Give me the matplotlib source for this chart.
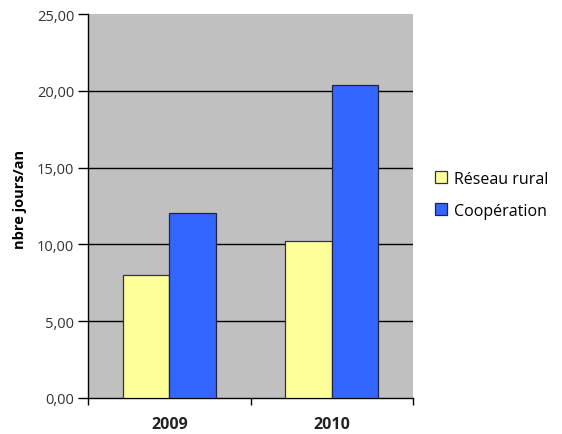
import numpy as np
import matplotlib.pyplot as plt
from matplotlib.ticker import FixedLocator

# data
years = ['2009', '2010']
reseau_rural = [8.0, 10.22]
cooperation = [12.05, 20.4]
series_names = ['Réseau rural', 'Coopération']
yticks = [0, 5, 10, 15, 20, 25]

plt.rcParams['font.family'] = ['Open Sans', 'DejaVu Sans']

fig = plt.figure(figsize=(5.62, 4.35), dpi=100)
ax = fig.add_axes([0.157, 0.083, 0.578, 0.882])
ax.set_facecolor('#C0C0C0')

x = np.arange(len(years))
w = 0.287
ax.bar(x - w/2, reseau_rural, w, color='#FFFF99', edgecolor='#333333', linewidth=0.9,
       label=series_names[0], zorder=3)
ax.bar(x + w/2, cooperation, w, color='#3366FF', edgecolor='#222244', linewidth=0.9,
       label=series_names[1], zorder=3)

ax.set_xlim(-0.5, 1.5)
ax.set_ylim(0, 25)
ax.set_yticks(yticks)
ax.set_yticklabels([('%.2f' % v).replace('.', ',') for v in yticks], fontsize=10.5, color='#333333')
ax.set_xticks(x)
ax.set_xticklabels(years, fontsize=11.5, fontweight='bold', color='#222222')
ax.tick_params(axis='x', which='major', length=0, pad=13)
ax.xaxis.set_minor_locator(FixedLocator([-0.5, 0.5, 1.5]))
ax.tick_params(axis='x', which='minor', length=5, width=1, direction='out')
ax.tick_params(axis='y', length=7, width=1, direction='out', pad=3)

for v in yticks[1:-1]:
    ax.axhline(v, color='black', linewidth=1, zorder=1)

for s in ['top', 'right']:
    ax.spines[s].set_visible(False)
ax.spines['left'].set_linewidth(1)
ax.spines['bottom'].set_linewidth(1)

ax.set_ylabel('nbre jours/an', fontsize=10.5, fontweight='bold')
ax.yaxis.set_label_coords(-0.19, 0.52)

fig.legend(loc='center left', bbox_to_anchor=(0.748, 0.55), frameon=False,
           fontsize=11.5, handlelength=0.75, handleheight=0.75, handletextpad=0.45,
           labelspacing=1.0)

plt.savefig('out.png', dpi=100)
